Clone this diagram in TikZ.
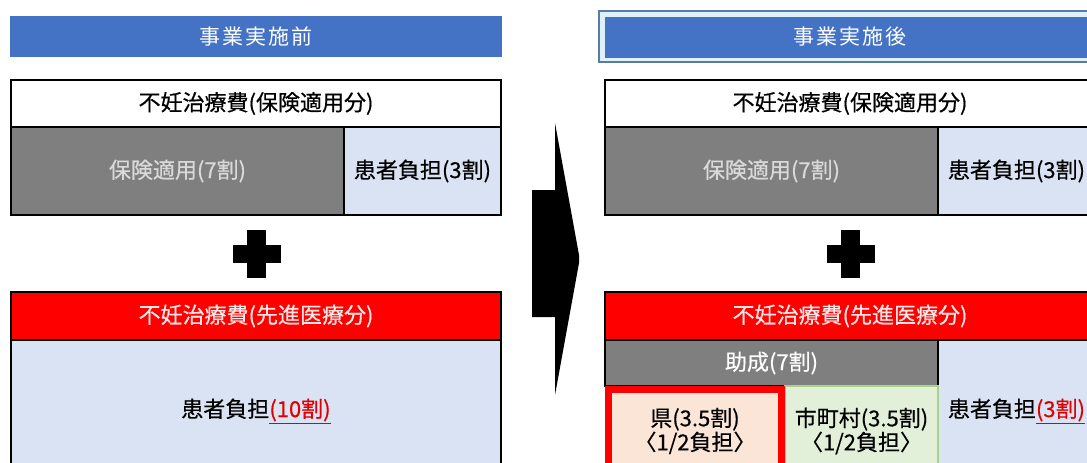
\documentclass[tikz,border=0pt]{standalone}
\usepackage{fontspec}
\setmainfont{Noto Sans CJK JP}
\newfontfamily\jp[FakeBold=0.5]{Noto Sans CJK JP}
\newfontfamily\jpsp[LetterSpace=10]{Noto Sans CJK JP}
\definecolor{hdrblue}{HTML}{4472C4}
\definecolor{hdrframe}{HTML}{5A7BA6}
\definecolor{hdrlight}{HTML}{DDF1F8}
\definecolor{cellgray}{HTML}{7F7F7F}
\definecolor{graytxt}{HTML}{D9D9D9}
\definecolor{paleblue}{HTML}{DAE3F3}
\definecolor{hred}{HTML}{FF0000}
\definecolor{redtxt}{HTML}{F6E6E6}
\definecolor{pink}{HTML}{FBE5D6}
\definecolor{palegreen}{HTML}{E2F0D9}
\definecolor{greenline}{HTML}{A9D18E}
\definecolor{accent}{HTML}{E00000}
\begin{document}
\begin{tikzpicture}[x=1pt,y=-1pt,
  base/.style={anchor=north west, inner sep=0pt, outer sep=0pt, align=center,
    font=\jp\fontsize{22}{26}\selectfont},
  hdr/.style={base, fill=hdrblue, text=white, font=\jpsp\fontsize{21}{26}\selectfont},
  cell/.style={base, draw=black, line width=2pt},
  whitecell/.style={cell, fill=white},
  graycell/.style={cell, fill=cellgray, text=graytxt},
  bluecell/.style={cell, fill=paleblue},
  redcell/.style={cell, fill=hred, text=redtxt},
  prefcell/.style={base, draw=hred, line width=7pt, fill=pink, font=\jp\fontsize{22}{24}\selectfont},
  municell/.style={base, draw=greenline, line width=2pt, fill=palegreen, font=\jp\fontsize{22}{24}\selectfont},
  plus/.style={fill=black},
]
\useasboundingbox (0,0) rectangle (1087,463);
\clip (0,0) rectangle (1087,463);
\fill[white] (0,0) rectangle (1087,463);

% ---------- left panel (before) ----------
\node[hdr, minimum width=492pt, minimum height=41pt] (hdrL) at (10,16) {事業実施前};
\node[whitecell, minimum width=490pt, minimum height=47pt] (topL) at (11,80) {不妊治療費(保険適用分)};
\node[graycell, minimum width=333pt, minimum height=88pt] (insL) at (11,127) {保険適用(7割)};
\node[bluecell, minimum width=157pt, minimum height=88pt] (patL) at (344,127) {患者負担(3割)};
\path[plus] (247,230) rectangle (266,278);
\path[plus] (233,245) rectangle (281,263);
\coordinate (plusL) at (256.5,254);
\node[redcell, minimum width=490pt, minimum height=48pt] (advL) at (11,292) {不妊治療費(先進医療分)};
\node[bluecell, minimum width=490pt, minimum height=142pt] (patAL) at (11,340)
  {患者負担{\color{accent}\underline{(10割)}}};

% ---------- arrow ----------
\fill[black] (532,190) -- (555,190) -- (555,123) -- (579,255) -- (579,263)
  -- (555,395) -- (555,317) -- (532,317) -- cycle;

% ---------- right panel (after) ----------
\node[base, fill=hdrlight, draw=hdrframe, line width=2pt, minimum width=510pt, minimum height=51pt] (frameR) at (599,11) {};
\node[hdr, minimum width=490pt, minimum height=41pt] (hdrR) at (605,16.5) {事業実施後};
\node[whitecell, minimum width=490pt, minimum height=47pt] (topR) at (605,80) {不妊治療費(保険適用分)};
\node[graycell, minimum width=333pt, minimum height=88pt] (insR) at (605,127) {保険適用(7割)};
\node[bluecell, minimum width=157pt, minimum height=88pt] (patR) at (938,127) {患者負担(3割)};
\path[plus] (841,230) rectangle (860,278);
\path[plus] (827,245) rectangle (875,263);
\coordinate (plusR) at (850.5,254);
\node[redcell, minimum width=490pt, minimum height=48pt] (advR) at (605,292) {不妊治療費(先進医療分)};
\node[graycell, text=white, minimum width=333pt, minimum height=46pt] (subR) at (605,340) {助成(7割)};
\node[bluecell, minimum width=157pt, minimum height=142pt] (patAR) at (938,340)
  {患者負担{\color{accent}\underline{(3割)}}};
\node[municell, minimum width=153pt, minimum height=90pt] (muniR) at (785,386)
  {市町村(3.5割)\\〈1/2負担〉};
\node[prefcell, minimum width=173pt, minimum height=83pt] (prefR) at (608.5,389.5)
  {県(3.5割)\\〈1/2負担〉};
\end{tikzpicture}
\end{document}
